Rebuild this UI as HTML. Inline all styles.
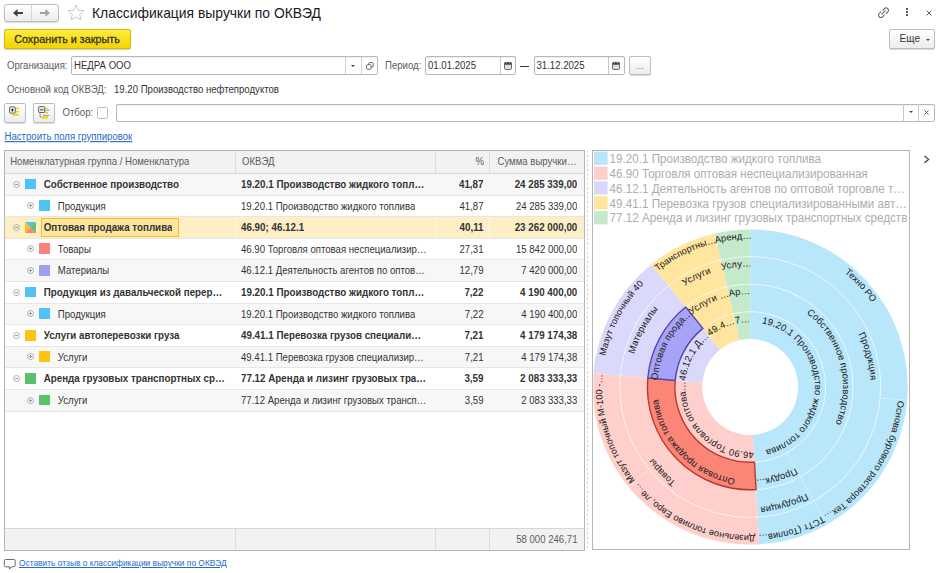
<!DOCTYPE html>
<html><head><meta charset="utf-8">
<style>
*{box-sizing:border-box;margin:0;padding:0}
html,body{width:938px;height:573px;overflow:hidden;background:#fff;font-family:"Liberation Sans",sans-serif;color:#333;font-size:9.6px}
.a{position:absolute;white-space:nowrap}
.t{transform:scaleY(1.13);transform-origin:0 9.3px}
.btn{position:absolute;border:1px solid #bdbdbd;border-radius:2px;background:linear-gradient(#fff,#ececec);box-shadow:0 1px 1px rgba(0,0,0,.15)}
.inp{position:absolute;border:1px solid #b8b8b8;border-radius:2px;background:#fff;box-shadow:inset 0 1px 1px rgba(0,0,0,.06)}
.lbl{color:#5c5c5c}
#tbl{position:absolute;left:4px;top:150px;width:581px;height:401px;border:1px solid #b5b5b5;background:#fff;overflow:hidden}
.row{position:absolute;left:0;width:579px;height:21.6px;border-bottom:1px solid #e6e6e6}
.row.g{background:#f7f7f7}
.row.sel{background:#fcefc6}
.c{position:absolute;top:0;height:100%;line-height:21px;white-space:nowrap;overflow:hidden;transform:scaleY(1.15);transform-origin:0 13.9px}
.b{font-weight:bold;color:#333;font-size:9.8px}
.r{text-align:right}
.sq{position:absolute;width:10.9px;height:10.9px;top:4.6px}
.pm{position:absolute;top:6.5px;width:7px;height:7px;border:1px solid #b0b0b0;border-radius:50%}
.pm:before{content:"";position:absolute;left:1px;top:2px;width:3px;height:1px;background:#999}
.pm.p:after{content:"";position:absolute;left:2px;top:1px;width:1px;height:3px;background:#999}
</style></head><body>

<!-- nav -->
<div class="btn" style="left:4px;top:4px;width:55px;height:18px;border-radius:3px"></div>
<div class="a" style="left:31px;top:5px;width:1px;height:16px;background:#d6d6d6"></div>
<svg class="a" style="left:12px;top:8px" width="12" height="10" viewBox="0 0 12 10"><path d="M1 4.9L5.6 1.1V3.9H11V5.9H5.6V8.7Z" fill="#384048"/></svg>
<svg class="a" style="left:39px;top:8px" width="12" height="10" viewBox="0 0 12 10"><path d="M11 4.9L6.4 1.1V3.9H1V5.9H6.4V8.7Z" fill="#a2a2a2"/></svg>
<svg class="a" style="left:67px;top:4px" width="18" height="17" viewBox="0 0 18 17"><path d="M9 1l2.3 5.2 5.6.5-4.2 3.7 1.3 5.5L9 13l-5 2.9 1.3-5.5L1.1 6.7l5.6-.5z" fill="none" stroke="#c8c8c8" stroke-width="1"/></svg>
<div class="a" style="left:92px;top:3.8px;font-size:13.9px;color:#1a1a1a;line-height:18px">Классификация выручки по ОКВЭД</div>

<!-- top right icons -->
<svg class="a" style="left:877.4px;top:6px" width="13" height="13" viewBox="0 0 13 13"><g fill="none" stroke="#5f5f5f" stroke-width="1.05" stroke-linecap="round"><path d="M5.8 4.3L7.5 2.6A2.3 2.3 0 0 1 10.8 5.9L9.1 7.6"/><path d="M7.2 9.1L5.5 10.8A2.3 2.3 0 0 1 2.2 7.5L3.9 5.8"/><path d="M4.9 8.1L8.1 4.9"/></g></svg>
<div class="a" style="left:906.1px;top:8px;width:1.8px;height:1.8px;background:#5a5a5a"></div>
<div class="a" style="left:906.1px;top:11px;width:1.8px;height:1.8px;background:#5a5a5a"></div>
<div class="a" style="left:906.1px;top:14px;width:1.8px;height:1.8px;background:#5a5a5a"></div>
<svg class="a" style="left:926.1px;top:9.8px" width="6" height="6" viewBox="0 0 6 6"><path d="M.6 .6l4.8 4.8M5.4 .6l-4.8 4.8" stroke="#555" stroke-width="0.95"/></svg>

<!-- save button -->
<div class="a" style="left:4px;top:29px;width:127px;height:20px;border:1px solid #d8b800;border-radius:2px;background:linear-gradient(#ffec3d,#f5d400);box-shadow:0 1px 1px rgba(0,0,0,.2)"></div>
<div class="a" style="left:14.2px;top:32.5px;font-size:10.8px;color:#333;line-height:12px;-webkit-text-stroke:0.3px #333">Сохранить и закрыть</div>
<!-- more -->
<div class="btn" style="left:888.8px;top:29px;width:46.2px;height:19.5px"></div>
<div class="a t" style="left:899.6px;top:33.3px;font-size:10px;color:#333;line-height:12px">Еще</div>
<div class="a" style="left:926px;top:39px;width:0;height:0;border-left:2.5px solid transparent;border-right:2.5px solid transparent;border-top:2.5px solid #444"></div>

<!-- org row -->
<div class="a t lbl" style="left:7px;top:60px;line-height:12px">Организация:</div>
<div class="inp" style="left:71px;top:56.3px;width:306.6px;height:18.8px"></div>
<div class="a" style="left:345px;top:57px;width:1px;height:17px;background:#d0d0d0"></div>
<div class="a" style="left:361px;top:57px;width:1px;height:17px;background:#d0d0d0"></div>
<div class="a" style="left:351px;top:64.5px;width:0;height:0;border-left:2.5px solid transparent;border-right:2.5px solid transparent;border-top:2.5px solid #444"></div>
<svg class="a" style="left:365.8px;top:61.6px" width="8" height="8" viewBox="0 0 8 8"><g fill="none" stroke="#5a5a5a" stroke-width="0.9"><rect x="2.7" y=".6" width="4.5" height="4.5" rx="0.8"/><rect x=".6" y="2.7" width="4.5" height="4.5" rx="0.8" fill="#fff"/></g></svg>
<div class="a t" style="left:74px;top:60px;line-height:12px;color:#333">НЕДРА ООО</div>

<div class="a t lbl" style="left:385px;top:60px;line-height:12px">Период:</div>
<div class="inp" style="left:425px;top:56.3px;width:91.2px;height:18.8px"></div>
<div class="a" style="left:499.8px;top:57px;width:1px;height:17px;background:#c8c8c8"></div>
<div class="a t" style="left:428px;top:60px;line-height:12px">01.01.2025</div>
<div class="a" style="left:519.8px;top:65.9px;width:9.7px;height:1.2px;background:#3a3a3a"></div>
<div class="inp" style="left:533.5px;top:56.3px;width:91.2px;height:18.8px"></div>
<div class="a" style="left:608px;top:57px;width:1px;height:17px;background:#c8c8c8"></div>
<div class="a t" style="left:536.5px;top:60px;line-height:12px">31.12.2025</div>
<svg class="a" style="left:503.8px;top:60.5px" width="8" height="9" viewBox="0 0 8 9"><rect x=".5" y="1.5" width="7" height="7" rx="1.2" fill="#dedede" stroke="#6a6a6a"/><rect x=".5" y="1.5" width="7" height="2.2" fill="#3c3c3c"/><path d="M2.5 .5v2M5.5 .5v2" stroke="#999"/></svg>
<svg class="a" style="left:612px;top:60.5px" width="8" height="9" viewBox="0 0 8 9"><rect x=".5" y="1.5" width="7" height="7" rx="1.2" fill="#dedede" stroke="#6a6a6a"/><rect x=".5" y="1.5" width="7" height="2.2" fill="#3c3c3c"/><path d="M2.5 .5v2M5.5 .5v2" stroke="#999"/></svg>
<div class="btn" style="left:628.7px;top:56px;width:22.2px;height:19.3px"></div>
<div class="a" style="left:636.2px;top:63px;line-height:8px;font-size:8px;color:#555;letter-spacing:0.3px">...</div>

<!-- okved row -->
<div class="a t lbl" style="left:7px;top:84px;line-height:12px">Основной код ОКВЭД:</div>
<div class="a t" style="left:114px;top:84px;line-height:12px">19.20 Производство нефтепродуктов</div>

<!-- filter row -->
<div class="btn" style="left:4px;top:103px;width:21.6px;height:19.5px"></div>
<div class="btn" style="left:33px;top:103px;width:21.6px;height:19.5px"></div>
<svg class="a" style="left:8px;top:105px" width="13" height="13" viewBox="0 0 13 13"><rect x="8" y="2.7" width="2.9" height="1.4" fill="#f5d20a"/><rect x="8" y="5.9" width="2.9" height="1.4" fill="#f5d20a"/><rect x="4.2" y="8.8" width="6.7" height="1.9" fill="#f5d20a"/><rect x="1.5" y="1.9" width="5.8" height="6.2" rx="0.6" fill="#eee" stroke="#5a5a5a" stroke-width="0.9"/><path d="M4.4 3.2L5.7 5L4.4 6.8L3.1 5Z" fill="#222"/></svg>
<svg class="a" style="left:37px;top:105px" width="14" height="15" viewBox="0 0 14 15"><rect x="7.8" y="2.7" width="3.2" height="1.4" fill="#f5d20a"/><rect x="7.8" y="6.8" width="3.2" height="1.6" fill="#f5d20a"/><path d="M7.8 5.3h4.6M5.9 10.4h6.5" stroke="#5b9be0" stroke-width="0.9"/><rect x="4.3" y="11.3" width="6.7" height="2.3" fill="#f5d20a"/><path d="M3.1 7.5v4.6h1.2" fill="none" stroke="#777" stroke-width="0.7"/><rect x="1.6" y="1.6" width="6" height="5.9" rx="0.6" fill="#eee" stroke="#5a5a5a" stroke-width="0.9"/><rect x="3" y="4.2" width="3.4" height="1.1" fill="#555"/></svg>
<div class="a t lbl" style="left:62.5px;top:107px;line-height:12px">Отбор:</div>
<div class="a" style="left:97px;top:107.2px;width:11.4px;height:11.4px;border:1px solid #bdbdbd;border-radius:2px;background:#fff"></div>
<div class="inp" style="left:116.4px;top:103.5px;width:818.4px;height:18.9px"></div>
<div class="a" style="left:902.9px;top:104px;width:1px;height:18px;background:#c8c8c8"></div>
<div class="a" style="left:918.2px;top:104px;width:1px;height:18px;background:#c8c8c8"></div>
<div class="a" style="left:908.6px;top:111.2px;width:0;height:0;border-left:2.5px solid transparent;border-right:2.5px solid transparent;border-top:2.5px solid #444"></div>
<svg class="a" style="left:923.8px;top:109.6px" width="5" height="5" viewBox="0 0 5 5"><path d="M.5 .5l4 4M4.5 .5l-4 4" stroke="#555" stroke-width="0.9"/></svg>

<!-- link -->
<div class="a t" style="left:4.5px;top:131px;line-height:12px;color:#2a6bc1;text-decoration:underline">Настроить поля группировок</div>

<!-- table -->
<div id="tbl">
 <div class="a" style="left:0;top:0;width:579px;height:22.5px;background:#f2f2f2;border-bottom:1px solid #dadada"></div>
 <div class="c lbl" style="left:5.2px;height:22px;line-height:22px">Номенклатурная группа / Номенклатура</div>
 <div class="a" style="left:230.1px;top:0;width:1px;height:22px;background:#dcdcdc"></div>
 <div class="c lbl" style="left:237px;height:22px;line-height:22px">ОКВЭД</div>
 <div class="a" style="left:430.1px;top:0;width:1px;height:22px;background:#dcdcdc"></div>
 <div class="c lbl r" style="left:431px;width:48px;height:22px;line-height:22px">%</div>
 <div class="a" style="left:484.1px;top:0;width:1px;height:22px;background:#dcdcdc"></div>
 <div class="c lbl" style="left:492.5px;height:22px;line-height:22px">Сумма выручки…</div>
 <div class="row g" style="top:23.00px">
<div class="pm" style="left:7.6px"></div>
<div class="sq" style="left:20.2px;background:#4fc3f7"></div>
<div class="c b" style="left:38.7px">Собственное производство</div>
<div class="c b" style="left:236px">19.20.1 Производство жидкого топл…</div>
<div class="c b r" style="left:431px;width:47.5px">41,87</div>
<div class="c b r" style="left:485px;width:87.3px">24 285 339,00</div>
</div>
<div class="row" style="top:44.60px">
<div class="pm p" style="left:21.6px"></div>
<div class="sq" style="left:34.3px;background:#4fc3f7"></div>
<div class="c" style="left:52.8px">Продукция</div>
<div class="c" style="left:236px">19.20.1 Производство жидкого топлива</div>
<div class="c r" style="left:431px;width:47.5px">41,87</div>
<div class="c r" style="left:485px;width:87.3px">24 285 339,00</div>
</div>
<div class="row sel" style="top:66.20px">
<div class="pm" style="left:7.6px"></div>
<svg class="sq" style="left:20.2px" viewBox="0 0 10 10"><path d="M0 0H10L5 5Z" fill="#4fc3f7"/><path d="M10 0V10L5 5Z" fill="#5cbf6c"/><path d="M10 10H0L5 5Z" fill="#f7837a"/><path d="M0 10V0L5 5Z" fill="#ffc20e"/></svg>
<div class="a" style="left:230.1px;top:0;width:1px;height:20px;background:#fff8e6"></div>
<div class="a" style="left:430.1px;top:0;width:1px;height:20px;background:#fff8e6"></div>
<div class="a" style="left:484.1px;top:0;width:1px;height:20px;background:#fff8e6"></div>
<div class="a" style="left:35.8px;top:1px;width:138.6px;height:19px;border:1.3px solid #f4c02a;background:#fde59f"></div>
<div class="c b" style="left:38.7px">Оптовая продажа топлива</div>
<div class="c b" style="left:236px">46.90; 46.12.1</div>
<div class="c b r" style="left:431px;width:47.5px">40,11</div>
<div class="c b r" style="left:485px;width:87.3px">23 262 000,00</div>
</div>
<div class="row" style="top:87.80px">
<div class="pm p" style="left:21.6px"></div>
<div class="sq" style="left:34.3px;background:#f7837a"></div>
<div class="c" style="left:52.8px">Товары</div>
<div class="c" style="left:236px">46.90 Торговля оптовая неспециализир…</div>
<div class="c r" style="left:431px;width:47.5px">27,31</div>
<div class="c r" style="left:485px;width:87.3px">15 842 000,00</div>
</div>
<div class="row g" style="top:109.40px">
<div class="pm p" style="left:21.6px"></div>
<div class="sq" style="left:34.3px;background:#a29ef2"></div>
<div class="c" style="left:52.8px">Материалы</div>
<div class="c" style="left:236px">46.12.1 Деятельность агентов по оптов…</div>
<div class="c r" style="left:431px;width:47.5px">12,79</div>
<div class="c r" style="left:485px;width:87.3px">7 420 000,00</div>
</div>
<div class="row" style="top:131.00px">
<div class="pm" style="left:7.6px"></div>
<div class="sq" style="left:20.2px;background:#4fc3f7"></div>
<div class="c b" style="left:38.7px">Продукция из давальческой перер…</div>
<div class="c b" style="left:236px">19.20.1 Производство жидкого топл…</div>
<div class="c b r" style="left:431px;width:47.5px">7,22</div>
<div class="c b r" style="left:485px;width:87.3px">4 190 400,00</div>
</div>
<div class="row g" style="top:152.60px">
<div class="pm p" style="left:21.6px"></div>
<div class="sq" style="left:34.3px;background:#4fc3f7"></div>
<div class="c" style="left:52.8px">Продукция</div>
<div class="c" style="left:236px">19.20.1 Производство жидкого топлива</div>
<div class="c r" style="left:431px;width:47.5px">7,22</div>
<div class="c r" style="left:485px;width:87.3px">4 190 400,00</div>
</div>
<div class="row" style="top:174.20px">
<div class="pm" style="left:7.6px"></div>
<div class="sq" style="left:20.2px;background:#ffc20e"></div>
<div class="c b" style="left:38.7px">Услуги автоперевозки груза</div>
<div class="c b" style="left:236px">49.41.1 Перевозка грузов специали…</div>
<div class="c b r" style="left:431px;width:47.5px">7,21</div>
<div class="c b r" style="left:485px;width:87.3px">4 179 174,38</div>
</div>
<div class="row g" style="top:195.80px">
<div class="pm p" style="left:21.6px"></div>
<div class="sq" style="left:34.3px;background:#ffc20e"></div>
<div class="c" style="left:52.8px">Услуги</div>
<div class="c" style="left:236px">49.41.1 Перевозка грузов специализир…</div>
<div class="c r" style="left:431px;width:47.5px">7,21</div>
<div class="c r" style="left:485px;width:87.3px">4 179 174,38</div>
</div>
<div class="row" style="top:217.40px">
<div class="pm" style="left:7.6px"></div>
<div class="sq" style="left:20.2px;background:#5cbf6c"></div>
<div class="c b" style="left:38.7px">Аренда грузовых транспортных ср…</div>
<div class="c b" style="left:236px">77.12 Аренда и лизинг грузовых тра…</div>
<div class="c b r" style="left:431px;width:47.5px">3,59</div>
<div class="c b r" style="left:485px;width:87.3px">2 083 333,33</div>
</div>
<div class="row g" style="top:239.00px">
<div class="pm p" style="left:21.6px"></div>
<div class="sq" style="left:34.3px;background:#5cbf6c"></div>
<div class="c" style="left:52.8px">Услуги</div>
<div class="c" style="left:236px">77.12 Аренда и лизинг грузовых трансп…</div>
<div class="c r" style="left:431px;width:47.5px">3,59</div>
<div class="c r" style="left:485px;width:87.3px">2 083 333,33</div>
</div>
 <div class="a" style="left:0;top:376.6px;width:579px;height:23.4px;background:#f2f2f2;border-top:1px solid #d6d6d6"></div>
 <div class="a" style="left:230.1px;top:377.6px;width:1px;height:22.4px;background:#dcdcdc"></div>
 <div class="a" style="left:430.1px;top:377.6px;width:1px;height:22.4px;background:#dcdcdc"></div>
 <div class="a" style="left:484.1px;top:377.6px;width:1px;height:22.4px;background:#dcdcdc"></div>
 <div class="c lbl r" style="left:485px;width:87.5px;top:377.6px;height:22px;line-height:22px">58 000 246,71</div>
</div>

<svg class="a" style="left:0;top:0" width="938" height="573" viewBox="0 0 938 573">
<defs><path id="t0" d="M750.20 322.20A64.80 64.80 0 0 1 753.90 451.69"/><path id="t1" d="M753.90 451.69A64.80 64.80 0 0 1 685.65 381.31"/><path id="t2" d="M685.65 381.31A64.80 64.80 0 0 1 709.49 336.58"/><path id="t3" d="M709.49 336.58A64.80 64.80 0 0 1 735.67 323.85"/><path id="t4" d="M735.67 323.85A64.80 64.80 0 0 1 750.20 322.20"/><path id="t5" d="M750.20 294.20A92.80 92.80 0 0 1 795.57 467.95"/><path id="t6" d="M795.57 467.95A92.80 92.80 0 0 1 755.50 479.65"/><path id="t7" d="M755.50 479.65A92.80 92.80 0 0 1 657.76 378.85"/><path id="t8" d="M657.76 378.85A92.80 92.80 0 0 1 691.90 314.80"/><path id="t9" d="M691.90 314.80A92.80 92.80 0 0 1 729.39 296.56"/><path id="t10" d="M729.39 296.56A92.80 92.80 0 0 1 750.20 294.20"/><path id="t11" d="M750.20 266.60A120.40 120.40 0 0 1 809.06 492.03"/><path id="t12" d="M809.06 492.03A120.40 120.40 0 0 1 757.08 507.20"/><path id="t13" d="M757.08 507.20A120.40 120.40 0 0 1 630.27 376.42"/><path id="t14" d="M630.27 376.42A120.40 120.40 0 0 1 674.57 293.32"/><path id="t15" d="M674.57 293.32A120.40 120.40 0 0 1 723.20 269.67"/><path id="t16" d="M723.20 269.67A120.40 120.40 0 0 1 750.20 266.60"/><path id="t17" d="M750.20 238.90A148.10 148.10 0 0 1 897.78 399.39"/><path id="t18" d="M897.78 399.39A148.10 148.10 0 0 1 822.61 516.19"/><path id="t19" d="M822.61 516.19A148.10 148.10 0 0 1 758.66 534.86"/><path id="t20" d="M758.66 534.86A148.10 148.10 0 0 1 635.43 480.60"/><path id="t21" d="M635.43 480.60A148.10 148.10 0 0 1 602.67 373.99"/><path id="t22" d="M602.67 373.99A148.10 148.10 0 0 1 657.17 271.77"/><path id="t23" d="M657.17 271.77A148.10 148.10 0 0 1 716.99 242.67"/><path id="t24" d="M716.99 242.67A148.10 148.10 0 0 1 750.20 238.90"/></defs>
<defs><clipPath id="cf"><rect x="593.5" y="151" width="315" height="398"/></clipPath></defs>
<g clip-path="url(#cf)">
<path d="M750.20 311.70A75.3 75.3 0 0 1 754.50 462.18L752.94 434.92A48.0 48.0 0 0 0 750.20 339.00Z" fill="#b8e7fb"/>
<path d="M754.50 462.18A75.3 75.3 0 0 1 675.19 380.38L702.39 382.78A48.0 48.0 0 0 0 752.94 434.92Z" fill="#ffd0cb"/>
<path d="M675.19 380.38A75.3 75.3 0 0 1 702.90 328.41L720.05 349.65A48.0 48.0 0 0 0 702.39 382.78Z" fill="#dad9fb"/>
<path d="M702.90 328.41A75.3 75.3 0 0 1 733.31 313.62L739.44 340.22A48.0 48.0 0 0 0 720.05 349.65Z" fill="#ffe59e"/>
<path d="M733.31 313.62A75.3 75.3 0 0 1 750.20 311.70L750.20 339.00A48.0 48.0 0 0 0 739.44 340.22Z" fill="#c5e9cb"/>
<path d="M750.20 284.20A102.8 102.8 0 0 1 800.46 476.68L787.01 452.69A75.3 75.3 0 0 0 750.20 311.70Z" fill="#b8e7fb"/>
<path d="M800.46 476.68A102.8 102.8 0 0 1 756.07 489.63L754.50 462.18A75.3 75.3 0 0 0 787.01 452.69Z" fill="#b8e7fb"/>
<path d="M685.62 307.01A102.8 102.8 0 0 1 727.14 286.82L733.31 313.62A75.3 75.3 0 0 0 702.90 328.41Z" fill="#ffe59e"/>
<path d="M727.14 286.82A102.8 102.8 0 0 1 750.20 284.20L750.20 311.70A75.3 75.3 0 0 0 733.31 313.62Z" fill="#c5e9cb"/>
<path d="M750.20 256.60A130.4 130.4 0 0 1 813.95 500.75L800.46 476.68A102.8 102.8 0 0 0 750.20 284.20Z" fill="#b8e7fb"/>
<path d="M813.95 500.75A130.4 130.4 0 0 1 757.65 517.19L756.07 489.63A102.8 102.8 0 0 0 800.46 476.68Z" fill="#b8e7fb"/>
<path d="M757.65 517.19A130.4 130.4 0 0 1 620.30 375.54L647.80 377.97A102.8 102.8 0 0 0 756.07 489.63Z" fill="#ffd0cb"/>
<path d="M620.30 375.54A130.4 130.4 0 0 1 668.29 285.54L685.62 307.01A102.8 102.8 0 0 0 647.80 377.97Z" fill="#dad9fb"/>
<path d="M668.29 285.54A130.4 130.4 0 0 1 720.96 259.92L727.14 286.82A102.8 102.8 0 0 0 685.62 307.01Z" fill="#ffe59e"/>
<path d="M720.96 259.92A130.4 130.4 0 0 1 750.20 256.60L750.20 284.20A102.8 102.8 0 0 0 727.14 286.82Z" fill="#c5e9cb"/>
<path d="M750.20 229.50A157.5 157.5 0 0 1 907.15 400.18L880.14 397.91A130.4 130.4 0 0 0 750.20 256.60Z" fill="#b8e7fb"/>
<path d="M907.15 400.18A157.5 157.5 0 0 1 827.20 524.39L813.95 500.75A130.4 130.4 0 0 0 880.14 397.91Z" fill="#b8e7fb"/>
<path d="M827.20 524.39A157.5 157.5 0 0 1 759.20 544.24L757.65 517.19A130.4 130.4 0 0 0 813.95 500.75Z" fill="#b8e7fb"/>
<path d="M759.20 544.24A157.5 157.5 0 0 1 628.15 486.54L649.15 469.42A130.4 130.4 0 0 0 757.65 517.19Z" fill="#ffd0cb"/>
<path d="M628.15 486.54A157.5 157.5 0 0 1 593.31 373.16L620.30 375.54A130.4 130.4 0 0 0 649.15 469.42Z" fill="#ffd0cb"/>
<path d="M593.31 373.16A157.5 157.5 0 0 1 651.26 264.45L668.29 285.54A130.4 130.4 0 0 0 620.30 375.54Z" fill="#dad9fb"/>
<path d="M651.26 264.45A157.5 157.5 0 0 1 714.88 233.51L720.96 259.92A130.4 130.4 0 0 0 668.29 285.54Z" fill="#ffe59e"/>
<path d="M714.88 233.51A157.5 157.5 0 0 1 750.20 229.50L750.20 256.60A130.4 130.4 0 0 0 720.96 259.92Z" fill="#c5e9cb"/>
<line x1="787.01" y1="452.69" x2="800.46" y2="476.68" stroke="#fff" stroke-opacity=".22" stroke-width="1"/>
<line x1="800.46" y1="476.68" x2="813.95" y2="500.75" stroke="#fff" stroke-opacity=".22" stroke-width="1"/>
<line x1="813.95" y1="500.75" x2="827.20" y2="524.39" stroke="#fff" stroke-opacity=".22" stroke-width="1"/>
<line x1="880.14" y1="397.91" x2="907.15" y2="400.18" stroke="#fff" stroke-opacity=".22" stroke-width="1"/>
<line x1="649.15" y1="469.42" x2="628.15" y2="486.54" stroke="#fff" stroke-opacity=".22" stroke-width="1"/>
<circle cx="750.2" cy="387.0" r="75.3" fill="none" stroke="#fff" stroke-opacity=".62" stroke-width="1"/>
<circle cx="750.2" cy="387.0" r="102.8" fill="none" stroke="#fff" stroke-opacity=".62" stroke-width="1"/>
<circle cx="750.2" cy="387.0" r="130.4" fill="none" stroke="#fff" stroke-opacity=".62" stroke-width="1"/>
<path d="M756.07 489.63A102.8 102.8 0 0 1 647.80 377.97L675.19 380.38A75.3 75.3 0 0 0 754.50 462.18Z" fill="#fb8677" stroke="#b5382c" stroke-width="1.4"/>
<path d="M647.80 377.97A102.8 102.8 0 0 1 685.62 307.01L702.90 328.41A75.3 75.3 0 0 0 675.19 380.38Z" fill="#a7a3f7" stroke="#4c49b4" stroke-width="1.4"/>
<text font-size="9.4" letter-spacing="0.15" fill="#222" stroke="#222" stroke-width="0.04"><textPath href="#t0" startOffset="50%" text-anchor="middle">19.20.1 Производство жидкого топлива</textPath></text>
<text font-size="9.4" letter-spacing="0.15" fill="#222" stroke="#222" stroke-width="0.04"><textPath href="#t1" startOffset="50%" text-anchor="middle">46.90 Торговля оптова…</textPath></text>
<text font-size="9.4" letter-spacing="0.15" fill="#222" stroke="#222" stroke-width="0.04"><textPath href="#t2" startOffset="50%" text-anchor="middle">46.12.1 Д…</textPath></text>
<text font-size="9.4" letter-spacing="0.15" fill="#222" stroke="#222" stroke-width="0.04"><textPath href="#t3" startOffset="50%" text-anchor="middle">49.4…</textPath></text>
<text font-size="9.4" letter-spacing="0.15" fill="#222" stroke="#222" stroke-width="0.04"><textPath href="#t4" startOffset="50%" text-anchor="middle">7…</textPath></text>
<text font-size="9.4" letter-spacing="0.15" fill="#222" stroke="#222" stroke-width="0.04"><textPath href="#t5" startOffset="50%" text-anchor="middle">Собственное производство</textPath></text>
<text font-size="9.4" letter-spacing="0.15" fill="#222" stroke="#222" stroke-width="0.04"><textPath href="#t6" startOffset="50%" text-anchor="middle">Продук…</textPath></text>
<text font-size="9.4" letter-spacing="0.15" fill="#222" stroke="#222" stroke-width="0.04"><textPath href="#t7" startOffset="50%" text-anchor="middle">Оптовая продажа топлива</textPath></text>
<text font-size="9.4" letter-spacing="0.15" fill="#222" stroke="#222" stroke-width="0.04"><textPath href="#t8" startOffset="50%" text-anchor="middle">Оптовая прода…</textPath></text>
<text font-size="9.4" letter-spacing="0.15" fill="#222" stroke="#222" stroke-width="0.04"><textPath href="#t9" startOffset="50%" text-anchor="middle">Услуги …</textPath></text>
<text font-size="9.4" letter-spacing="0.15" fill="#222" stroke="#222" stroke-width="0.04"><textPath href="#t10" startOffset="50%" text-anchor="middle">Ар…</textPath></text>
<text font-size="9.4" letter-spacing="0.15" fill="#222" stroke="#222" stroke-width="0.04"><textPath href="#t11" startOffset="50%" text-anchor="middle">Продукция</textPath></text>
<text font-size="9.4" letter-spacing="0.15" fill="#222" stroke="#222" stroke-width="0.04"><textPath href="#t12" startOffset="50%" text-anchor="middle">Продукция</textPath></text>
<text font-size="9.4" letter-spacing="0.15" fill="#222" stroke="#222" stroke-width="0.04"><textPath href="#t13" startOffset="50%" text-anchor="middle">Товары</textPath></text>
<text font-size="9.4" letter-spacing="0.15" fill="#222" stroke="#222" stroke-width="0.04"><textPath href="#t14" startOffset="50%" text-anchor="middle">Материалы</textPath></text>
<text font-size="9.4" letter-spacing="0.15" fill="#222" stroke="#222" stroke-width="0.04"><textPath href="#t15" startOffset="50%" text-anchor="middle">Услуги</textPath></text>
<text font-size="9.4" letter-spacing="0.15" fill="#222" stroke="#222" stroke-width="0.04"><textPath href="#t16" startOffset="50%" text-anchor="middle">Услу…</textPath></text>
<text font-size="9.2" letter-spacing="0.05" fill="#222" stroke="#222" stroke-width="0.04"><textPath href="#t17" startOffset="50%" text-anchor="middle">Техно РО</textPath></text>
<text font-size="9.2" letter-spacing="0.05" fill="#222" stroke="#222" stroke-width="0.04"><textPath href="#t18" startOffset="50%" text-anchor="middle">Основа бурового раствора Тех…</textPath></text>
<text font-size="9.2" letter-spacing="0.05" fill="#222" stroke="#222" stroke-width="0.04"><textPath href="#t19" startOffset="50%" text-anchor="middle">ТСТт (Топлив…</textPath></text>
<text font-size="9.2" letter-spacing="0.05" fill="#222" stroke="#222" stroke-width="0.04"><textPath href="#t20" startOffset="50%" text-anchor="middle">Дизельное топливо Евро, ле…</textPath></text>
<text font-size="9.2" letter-spacing="0.05" fill="#222" stroke="#222" stroke-width="0.04"><textPath href="#t21" startOffset="50%" text-anchor="middle">Мазут топочный М-100 -…</textPath></text>
<text font-size="9.2" letter-spacing="0.05" fill="#222" stroke="#222" stroke-width="0.04"><textPath href="#t22" startOffset="50%" text-anchor="middle">Мазут топочный 40</textPath></text>
<text font-size="9.2" letter-spacing="0.05" fill="#222" stroke="#222" stroke-width="0.04"><textPath href="#t23" startOffset="50%" text-anchor="middle">Транспортны…</textPath></text>
<text font-size="9.2" letter-spacing="0.05" fill="#222" stroke="#222" stroke-width="0.04"><textPath href="#t24" startOffset="50%" text-anchor="middle">Аренд…</textPath></text>
</g>
<rect x="593.5" y="151" width="315" height="75" fill="#fff"/>
<rect x="594" y="151.60" width="13.6" height="13.4" fill="#b8e7fb"/>
<text x="609.6" y="163.10" font-size="11.65" fill="#adadad" transform="matrix(1 0 0 1.1 0 -16.310)">19.20.1 Производство жидкого топлива</text>
<rect x="594" y="166.45" width="13.6" height="13.4" fill="#ffd0cb"/>
<text x="609.6" y="177.95" font-size="11.65" fill="#adadad" transform="matrix(1 0 0 1.1 0 -17.795)">46.90 Торговля оптовая неспециализированная</text>
<rect x="594" y="181.30" width="13.6" height="13.4" fill="#dad9fb"/>
<text x="609.6" y="192.80" font-size="11.65" fill="#adadad" transform="matrix(1 0 0 1.1 0 -19.280)">46.12.1 Деятельность агентов по оптовой торговле т…</text>
<rect x="594" y="196.15" width="13.6" height="13.4" fill="#ffe59e"/>
<text x="609.6" y="207.65" font-size="11.65" fill="#adadad" transform="matrix(1 0 0 1.1 0 -20.765)">49.41.1 Перевозка грузов специализированными авт…</text>
<rect x="594" y="211.00" width="13.6" height="13.4" fill="#c5e9cb"/>
<text x="609.6" y="222.50" font-size="11.65" fill="#adadad" transform="matrix(1 0 0 1.1 0 -22.250)">77.12 Аренда и лизинг грузовых транспортных средств</text>
<rect x="592.5" y="150.5" width="317" height="399" fill="none" stroke="#b5b5b5"/>
<path d="M924.5 156L928.6 159.4L924.5 162.8" fill="none" stroke="#333" stroke-width="1.15"/>
</svg>
<!-- splitter -->
<svg class="a" style="left:586px;top:150px" width="3" height="400"><line x1="1.5" y1="0.5" x2="1.5" y2="400" stroke="#cdcdcd" stroke-width="1" stroke-dasharray="2.2 2.4"/></svg>

<!-- feedback -->
<svg class="a" style="left:3px;top:557.5px" width="13" height="13" viewBox="0 0 13 13"><path d="M2.6 1.5h8.3a1.3 1.3 0 0 1 1.3 1.3v4.7a1.3 1.3 0 0 1-1.3 1.3H8.3L6.4 11.2V8.8H2.6a1.3 1.3 0 0 1-1.3-1.3V2.8a1.3 1.3 0 0 1 1.3-1.3z" fill="none" stroke="#6a6a6a" stroke-width="1"/></svg>
<div class="a" style="left:19px;top:558px;font-size:8.4px;line-height:10px;color:#2a6bc1;text-decoration:underline">Оставить отзыв о классификации выручки по ОКВЭД</div>

</body></html>
